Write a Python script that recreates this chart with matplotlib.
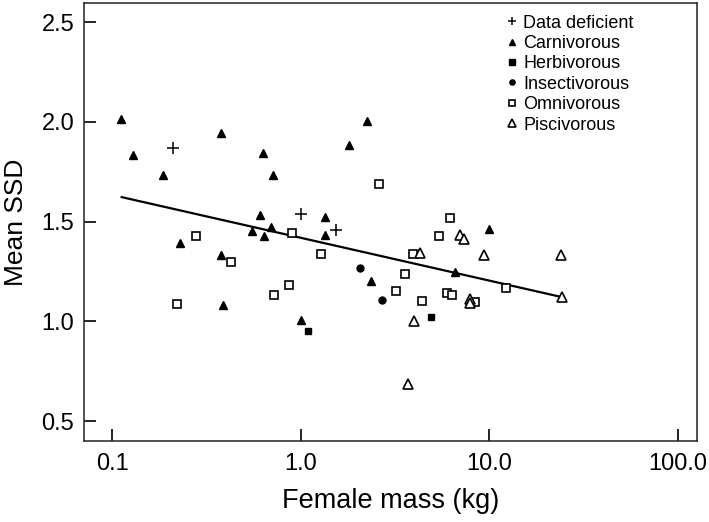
import matplotlib
matplotlib.use('Agg')
import matplotlib.pyplot as plt
from matplotlib.ticker import FixedLocator, FixedFormatter, NullLocator

plt.rcParams['font.family'] = ['Liberation Sans', 'DejaVu Sans']

# Data: female mass (kg) and mean SSD per diet group
dd_mass = [0.211, 1.01, 1.54]
dd_ssd = [1.868, 1.538, 1.459]

carn_mass = [0.112, 0.129, 0.186, 0.38, 0.63, 0.712, 0.61, 0.551, 0.70, 0.64, 0.23,
             0.38, 0.39, 1.0, 2.37, 2.25, 1.81, 1.35, 1.34, 10.0, 6.58]
carn_ssd = [2.014, 1.834, 1.734, 1.946, 1.846, 1.734, 1.535, 1.454, 1.474, 1.428, 1.394,
            1.334, 1.083, 1.005, 1.204, 2.003, 1.883, 1.523, 1.433, 1.464, 1.246]

herb_mass = [1.10, 4.92]
herb_ssd = [0.951, 1.02]

insect_mass = [2.06, 2.70]
insect_ssd = [1.269, 1.108]

omni_mass = [0.22, 0.28, 0.43, 0.90, 0.87, 0.72, 1.29, 3.22, 2.61, 3.60, 3.95, 4.41,
             5.43, 6.24, 5.97, 6.34, 8.45, 12.3]
omni_ssd = [1.088, 1.429, 1.299, 1.441, 1.18, 1.13, 1.339, 1.150, 1.689, 1.239, 1.339, 1.10,
            1.429, 1.52, 1.14, 1.132, 1.098, 1.169]

pisc_mass = [7.0, 7.34, 4.32, 9.44, 24.1, 24.5, 7.90, 7.93, 4.02, 3.73]
pisc_ssd = [1.433, 1.411, 1.344, 1.333, 1.333, 1.120, 1.113, 1.090, 1.003, 0.684]

# regression line end points
fit_mass = [0.1125, 24.5]
fit_ssd = [1.623, 1.121]

x_ticks = [0.1, 1, 10, 100]
x_labels = ['0.1', '1.0', '10.0', '100.0']
y_ticks = [0.5, 1.0, 1.5, 2.0, 2.5]
y_labels = ['0.5', '1.0', '1.5', '2.0', '2.5']

fig = plt.figure(figsize=(7.09, 5.22), dpi=100)
ax = fig.add_axes([84 / 709, 1 - 441 / 522, 613 / 709, 438.3 / 522])

ax.plot(fit_mass, fit_ssd, color='black', lw=1.6, zorder=1)

ax.plot(dd_mass, dd_ssd, ls='none', marker='+', ms=8, mew=1.1, color='black',
        label='Data deficient')
ax.plot(carn_mass, carn_ssd, ls='none', marker='^', ms=6, color='black',
        label='Carnivorous')
ax.plot(herb_mass, herb_ssd, ls='none', marker='s', ms=5, color='black',
        label='Herbivorous')
ax.plot(insect_mass, insect_ssd, ls='none', marker='o', ms=5, color='black',
        label='Insectivorous')
ax.plot(omni_mass, omni_ssd, ls='none', marker='s', ms=5.5, mfc='white', mec='black',
        mew=1.2, label='Omnivorous')
ax.plot(pisc_mass, pisc_ssd, ls='none', marker='^', ms=7, mfc='white', mec='black',
        mew=1.2, label='Piscivorous')

ax.set_xscale('log')
ax.set_xlim(0.071, 126.8)
ax.set_ylim(0.40, 2.598)

ax.xaxis.set_major_locator(FixedLocator(x_ticks))
ax.xaxis.set_major_formatter(FixedFormatter(x_labels))
ax.xaxis.set_minor_locator(NullLocator())
ax.set_yticks(y_ticks)
ax.set_yticklabels(y_labels)

ax.tick_params(axis='both', direction='in', length=8.5, width=1.2, labelsize=17,
               color='black')
ax.tick_params(axis='x', pad=9)
ax.tick_params(axis='y', pad=7)

for s in ax.spines.values():
    s.set_linewidth(1.1)
    s.set_color('#222222')

ax.set_xlabel('Female mass (kg)', fontsize=19.5)
ax.set_ylabel('Mean SSD', fontsize=19)
ax.xaxis.set_label_coords(0.5, -0.107)
ax.yaxis.set_label_coords(-0.092, 0.5)

leg = ax.legend(loc='upper left', bbox_to_anchor=(506.6 / 709, 1 - 14.5 / 522),
                bbox_transform=fig.transFigure, frameon=False, fontsize=13,
                borderpad=0, handlelength=0.6, handletextpad=0.32,
                labelspacing=0.19, markerscale=0.75, borderaxespad=0)

fig.savefig('out.png', dpi=100)
